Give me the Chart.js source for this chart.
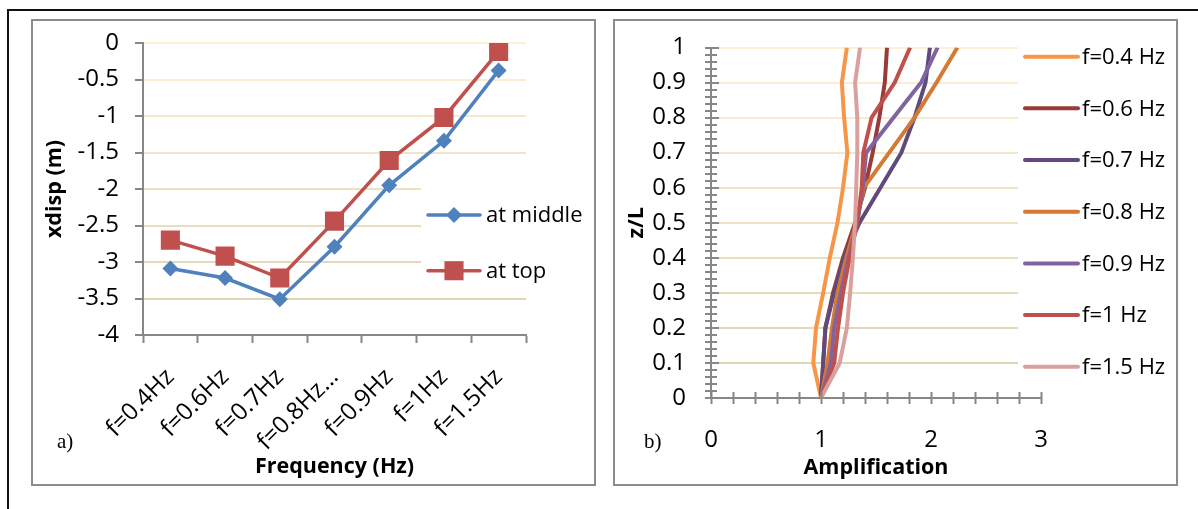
<!DOCTYPE html>
<html>
<head>
<meta charset="utf-8">
<title>xdisp and amplification vs frequency</title>
<script src="https://cdn.jsdelivr.net/npm/chart.js@4.4.1/dist/chart.umd.min.js"></script>
<style>
  html, body { margin: 0; padding: 0; background: #fff; }
  body { position: relative; width: 1198px; height: 509px; overflow: hidden; font-family: "Open Sans", sans-serif; }
  .rule-top  { position: absolute; left: 7px; top: 9px; width: 1191px; height: 2px; background: #111; }
  .rule-left { position: absolute; left: 7px; top: 9px; width: 2px; height: 500px; background: #111; }
  .panel { position: absolute; top: 19px; width: 565px; height: 467px; box-sizing: border-box; border: 2px solid #8c8c8c; }
  #panelA { left: 31px; }
  #panelB { left: 613px; }
  canvas { position: absolute; }
  #chartA { left: 34px; top: 22px; }
  #chartB { left: 616px; top: 22px; }
  .tag { position: absolute; top: 429px; font: 21px "Liberation Serif", "Times New Roman", serif; color: #000; }
</style>
</head>
<body>
<div class="rule-top"></div>
<div class="rule-left"></div>
<div class="panel" id="panelA"></div>
<div class="panel" id="panelB"></div>
<canvas id="chartA" width="559" height="461"></canvas>
<canvas id="chartB" width="559" height="461"></canvas>
<div class="tag" style="left:57px">a)</div>
<div class="tag" style="left:644px">b)</div>

<script>
// ---- panel a : horizontal displacement per forcing frequency ----
const freqLabels  = ["f=0.4Hz", "f=0.6Hz", "f=0.7Hz", "f=0.8Hz…", "f=0.9Hz", "f=1Hz", "f=1.5Hz"];
const xdispMiddle = [-3.09, -3.22, -3.51, -2.79, -1.95, -1.34, -0.375];
const xdispTop    = [-2.70, -2.92, -3.22, -2.44, -1.61, -1.02, -0.115];

// ---- panel b : amplification profile along the height ----
const zLevels   = [0, 0.1, 0.2, 0.3, 0.4, 0.5, 0.6, 0.7, 0.8, 0.9, 1];
const ampLabels = ["f=0.4 Hz", "f=0.6 Hz", "f=0.7 Hz", "f=0.8 Hz", "f=0.9 Hz", "f=1 Hz", "f=1.5 Hz"];
const ampF04 = [1.00, 0.93, 0.955, 1.02, 1.08, 1.15, 1.20, 1.24, 1.21, 1.19, 1.235];
const ampF06 = [1.00, 1.02, 1.04, 1.11, 1.20, 1.31, 1.40, 1.47, 1.53, 1.58, 1.60];
const ampF07 = [1.00, 1.02, 1.04, 1.12, 1.21, 1.35, 1.54, 1.73, 1.85, 1.95, 1.99];
const ampF08 = [1.00, 1.06, 1.10, 1.15, 1.23, 1.32, 1.39, 1.62, 1.85, 2.05, 2.24];
const ampF09 = [1.00, 1.09, 1.12, 1.18, 1.25, 1.33, 1.38, 1.41, 1.66, 1.91, 2.06];
const ampF10 = [1.00, 1.12, 1.155, 1.20, 1.26, 1.33, 1.37, 1.385, 1.46, 1.67, 1.81];
const ampF15 = [1.00, 1.17, 1.235, 1.265, 1.29, 1.31, 1.32, 1.33, 1.33, 1.31, 1.355];
const ampSeries = [ampF04, ampF06, ampF07, ampF08, ampF09, ampF10, ampF15];
const ampColors = ["#F79646", "#993B39", "#604A7B", "#D47A34", "#8064A2", "#C0504D", "#D9A09E"];

const AXIS_GREY = "#878787";
const FONT = '"Open Sans", sans-serif';

// pale cream at the top of the plot fading to tan towards the axis
function gridShade(frac) {
  const a = [253, 240, 212], b = [224, 214, 181];
  const c = a.map((v, i) => Math.round(v + (b[i] - v) * frac));
  return `rgb(${c[0]},${c[1]},${c[2]})`;
}

const isMultiple = (v, step) => Math.abs(v / step - Math.round(v / step)) < 1e-6;

// fixed width for the value axis; its label padding must not push the plot down
function fixYAxis(width) {
  return s => { s.width = width; s.paddingTop = 0; s.paddingBottom = 0; };
}

// legend drawn inside the plot on a white box, Excel style
const sideLegend = {
  id: "sideLegend",
  beforeDatasetsDraw(chart, args, opts) {
    const { ctx } = chart;
    const b = opts.box;
    ctx.save();
    ctx.fillStyle = "#fff";
    ctx.fillRect(b.x, b.y, b.w, b.h);
    ctx.font = `${opts.fontSize}px ${FONT}`;
    ctx.textBaseline = "middle";
    chart.data.datasets.forEach((ds, i) => {
      const y = opts.y + i * opts.gap;
      ctx.strokeStyle = ds.borderColor;
      ctx.lineWidth = ds.borderWidth;
      ctx.lineCap = "round";
      ctx.beginPath();
      ctx.moveTo(opts.x, y);
      ctx.lineTo(opts.x + opts.lineLen, y);
      ctx.stroke();
      if (ds.pointRadius) {
        ctx.fillStyle = ds.pointBackgroundColor;
        Chart.helpers.drawPoint(ctx, { pointStyle: ds.pointStyle, radius: ds.pointRadius, rotation: 0, borderWidth: 0 },
          opts.x + opts.lineLen / 2, y);
      }
      ctx.fillStyle = "#000";
      ctx.fillText(ds.label, opts.x + opts.lineLen + opts.textGap, y + 1);
    });
    ctx.restore();
  }
};

// tick marks that cross the axis line on both sides
const crossTicks = {
  id: "crossTicks",
  afterDraw(chart, args, opts) {
    const { ctx, chartArea } = chart;
    ctx.save();
    ctx.strokeStyle = AXIS_GREY;
    ctx.lineWidth = 2;
    const xs = chart.scales.x, ys = chart.scales.y;
    xs.ticks.forEach(t => {
      const px = Math.round(xs.getPixelForValue(t.value)) + 0.5;
      ctx.beginPath();
      ctx.moveTo(px, chartArea.bottom - opts.len);
      ctx.lineTo(px, chartArea.bottom + opts.len);
      ctx.stroke();
    });
    ys.ticks.forEach(t => {
      const py = Math.round(ys.getPixelForValue(t.value));
      const major = isMultiple(t.value, 0.1);
      ctx.beginPath();
      ctx.moveTo(chartArea.left - opts.len, py);
      ctx.lineTo(chartArea.left + (major ? opts.len + 2 : opts.len), py);
      ctx.stroke();
    });
    ctx.restore();
  }
};

Chart.defaults.font.family = FONT;
Chart.defaults.color = "#000";

function drawPanelA() {
  new Chart(document.getElementById("chartA"), {
    type: "line",
    data: {
      labels: freqLabels,
      datasets: [
        { label: "at middle", data: xdispMiddle, borderColor: "#4F81BD", backgroundColor: "#4F81BD",
          pointBackgroundColor: "#4F81BD", pointBorderWidth: 0, borderWidth: 3.5,
          pointStyle: "rectRot", pointRadius: 8, order: 2 },
        { label: "at top", data: xdispTop, borderColor: "#C0504D", backgroundColor: "#C0504D",
          pointBackgroundColor: "#C0504D", pointBorderWidth: 0, borderWidth: 3.5,
          pointStyle: "rect", pointRadius: 13.5, order: 1 }
      ]
    },
    options: {
      responsive: false,
      animation: false,
      devicePixelRatio: 1,
      layout: { padding: { top: 21, right: 67, left: 0, bottom: 0 } },
      plugins: {
        legend: { display: false },
        tooltip: { enabled: false },
        sideLegend: { x: 394, y: 193, gap: 55.7, lineLen: 52, textGap: 6, fontSize: 22,
                      box: { x: 387, y: 158, w: 172, h: 112 } }
      },
      scales: {
        x: {
          type: "category",
          offset: true,
          grid: { offset: true, drawOnChartArea: false, tickLength: 8, tickColor: AXIS_GREY, tickWidth: 2 },
          border: { color: AXIS_GREY, width: 2 },
          ticks: { minRotation: 45, maxRotation: 45, padding: 20, font: { size: 24 } },
          title: { display: true, text: "Frequency (Hz)", font: { size: 21.5, weight: "bold" }, padding: { top: 0, bottom: 3 } },
          afterFit: s => { s.height = 148; }
        },
        y: {
          min: -4, max: 0,
          ticks: { stepSize: 0.5, padding: 16, font: { size: 24 }, callback: v => String(v) },
          grid: {
            lineWidth: 2,
            tickLength: 8, tickColor: AXIS_GREY, tickWidth: 2,
            color: c => c.tick && c.tick.value > -4 ? gridShade((-c.tick.value) / 3.5) : "rgba(0,0,0,0)"
          },
          border: { color: AXIS_GREY, width: 2 },
          title: { display: true, text: "xdisp (m)", font: { size: 21.5, weight: "bold" }, padding: { top: 8, bottom: 0 } },
          afterFit: fixYAxis(109)
        }
      }
    },
    plugins: [sideLegend]
  });
}

function drawPanelB() {
  const datasets = ampSeries.map((amps, i) => ({
    label: ampLabels[i],
    data: zLevels.map((z, k) => ({ x: amps[k], y: z })),
    borderColor: ampColors[i],
    borderWidth: 4,
    pointRadius: 0,
    showLine: true,
    fill: false,
    order: ampSeries.length - i
  }));

  new Chart(document.getElementById("chartB"), {
    type: "scatter",
    data: { datasets },
    options: {
      responsive: false,
      animation: false,
      devicePixelRatio: 1,
      layout: { padding: { top: 25.5, right: 134, left: 0, bottom: 0 } },
      plugins: {
        legend: { display: false },
        tooltip: { enabled: false },
        sideLegend: { x: 409, y: 34.7, gap: 51.67, lineLen: 53, textGap: 4, fontSize: 22,
                      box: { x: 402, y: 0, w: 157, h: 358 } },
        crossTicks: { len: 6 }
      },
      scales: {
        x: {
          type: "linear",
          min: 0, max: 3,
          ticks: {
            stepSize: 0.2, autoSkip: false, maxTicksLimit: 100, maxRotation: 0, padding: 28,
            font: { size: 24 },
            callback: v => isMultiple(v, 1) ? String(Math.round(v)) : ""
          },
          grid: { drawOnChartArea: false, drawTicks: false },
          border: { color: AXIS_GREY, width: 2 },
          title: { display: true, text: "Amplification", font: { size: 21.5, weight: "bold" }, padding: { top: 0, bottom: 2 } },
          afterFit: s => { s.height = 85; }
        },
        y: {
          type: "linear",
          min: 0, max: 1,
          ticks: {
            stepSize: 0.02, autoSkip: false, maxTicksLimit: 100, padding: 25,
            font: { size: 24 },
            callback: v => isMultiple(v, 0.1) ? String(Math.round(v * 10) / 10) : ""
          },
          grid: {
            drawTicks: false,
            lineWidth: 2,
            color: c => c.tick && c.tick.value > 0.001 && isMultiple(c.tick.value, 0.1)
              ? gridShade((1 - c.tick.value) / 0.9) : "rgba(0,0,0,0)"
          },
          border: { color: AXIS_GREY, width: 2 },
          title: { display: true, text: "z/L", font: { size: 21.5, weight: "bold" }, padding: { top: 8, bottom: 0 } },
          afterFit: fixYAxis(95)
        }
      }
    },
    plugins: [sideLegend, crossTicks]
  });
}

Promise.all([
  document.fonts.load(`22px "Open Sans"`),
  document.fonts.load(`bold 20px "Open Sans"`)
]).catch(() => {}).then(() => {
  drawPanelA();
  drawPanelB();
});
</script>
</body>
</html>
